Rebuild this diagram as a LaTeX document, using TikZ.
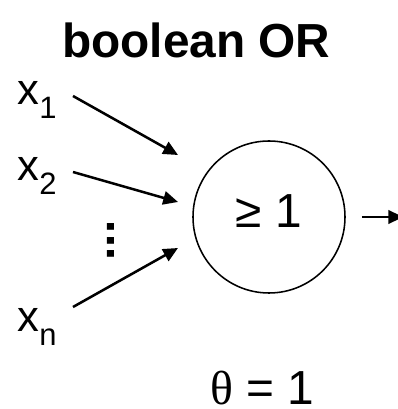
\documentclass[tikz,border=0pt]{standalone}
\usepackage{fontspec}
\setmainfont{Liberation Sans}
\newfontfamily\thetafont{Liberation Serif}
\usetikzlibrary{arrows.meta}
\newcommand{\xsub}[1]{x\raisebox{-0.32em}{\fontsize{22}{24}\selectfont #1}}

\begin{document}
\begin{tikzpicture}[
  font=\fontsize{34}{40}\selectfont,
  gate/.style={draw, circle, line width=1.1pt, minimum size=3.8cm, inner sep=0pt, text depth=0.3cm},
  inlabel/.style={anchor=base west, inner sep=0pt, font=\fontsize{31}{36}\selectfont},
  feed/.style={-{Triangle[length=10.5pt,width=9.5pt]}, line width=1.8pt},
  >=Stealth
]
\useasboundingbox (0,0) rectangle (9.925,10.225);

\node[anchor=base, font=\fontsize{34}{40}\selectfont\bfseries] (nTitle) at (4.91,8.775) {boolean OR};

\node[inlabel] (nX1) at (0.43,7.6) {\xsub{1}};
\node[inlabel] (nX2) at (0.43,5.7) {\xsub{2}};
\node[inlabel] (nXn) at (0.43,1.925) {\xsub{n}};
\node[rotate=90, inner sep=0pt, font=\fontsize{34}{40}\selectfont\bfseries] (nDots) at (2.775,4.21) {...};

\node[gate] (nGate) at (6.725,4.8) {≥ 1};

\node[anchor=base, inner sep=0pt] (nTheta) at (6.55,0.1) {{\thetafont θ} = 1};

% arrow ends
\coordinate (s1) at (1.825,7.825);
\coordinate (t1) at (4.45,6.35);
\coordinate (s2) at (1.825,5.925);
\coordinate (t2) at (4.45,5.175);
\coordinate (sn) at (1.825,2.55);
\coordinate (tn) at (4.45,4.025);
\coordinate (out) at (10.08,4.8);

\draw[feed] (s1) -- (t1);
\draw[feed] (s2) -- (t2);
\draw[feed] (sn) -- (tn);
\draw[feed, shorten <=0.4cm] (nGate) -- (out);

\end{tikzpicture}
\end{document}
